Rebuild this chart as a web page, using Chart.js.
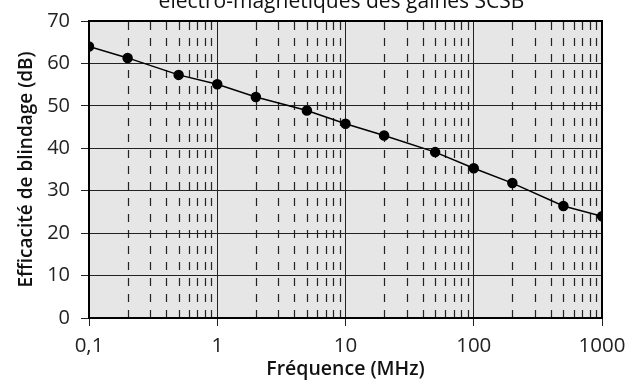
<!DOCTYPE html>
<html>
<head>
<meta charset="utf-8">
<script src="https://cdn.jsdelivr.net/npm/chart.js@4.4.1/dist/chart.umd.min.js"></script>
<style>
  html, body { margin: 0; padding: 0; background: #fff; }
  #wrap { width: 630px; height: 381px; position: relative; }
</style>
</head>
<body>
<div id="wrap"><canvas id="chart"></canvas></div>
<script>
// Shielding effectiveness vs frequency (log x axis)
const freqMHz = [0.1, 0.2, 0.5, 1, 2, 5, 10, 20, 50, 100, 200, 500, 1000];
const shieldDb = [64, 61.3, 57.3, 55.1, 52.1, 48.9, 45.8, 43.0, 39.1, 35.3, 31.8, 26.4, 24.0];
const xMajorTicks = [0.1, 1, 10, 100, 1000];
const xTickLabels = ['0,1', '1', '10', '100', '1000'];
const xMinorTicks = [0.2, 0.3, 0.4, 0.5, 0.6, 0.7, 0.8, 0.9,
  2, 3, 4, 5, 6, 7, 8, 9, 20, 30, 40, 50, 60, 70, 80, 90,
  200, 300, 400, 500, 600, 700, 800, 900];
const titleText = 'électro-magnétiques des gaines SCSB';

const FONT = '"Open Sans", "DejaVu Sans", sans-serif';

// plot background, dashed minor grid and frame
const plotDecor = {
  id: 'plotDecor',
  beforeDraw(chart) {
    const { ctx, chartArea: a } = chart;
    ctx.save();
    ctx.fillStyle = '#e6e6e6';
    ctx.fillRect(a.left, a.top, a.right - a.left, a.bottom - a.top);
    ctx.restore();
  },
  beforeDatasetsDraw(chart) {
    const { ctx, chartArea: a, scales } = chart;
    ctx.save();
    ctx.strokeStyle = '#222';
    ctx.lineWidth = 1.2;
    ctx.setLineDash([8, 8]);
    xMinorTicks.forEach(v => {
      const x = Math.round(scales.x.getPixelForValue(v)) + 0.5;
      ctx.beginPath();
      ctx.moveTo(x, a.bottom);
      ctx.lineTo(x, a.top);
      ctx.stroke();
    });
    ctx.setLineDash([]);
    ctx.strokeStyle = '#000';
    ctx.lineWidth = 2;
    ctx.strokeRect(a.left, a.top, a.right - a.left, a.bottom - a.top);
    ctx.restore();
  },
  afterDraw(chart) {
    const { ctx, chartArea: a } = chart;
    ctx.save();
    ctx.fillStyle = '#111';
    ctx.font = '500 21px ' + FONT;
    ctx.textAlign = 'center';
    ctx.textBaseline = 'alphabetic';
    ctx.fillText(titleText, (a.left + a.right) / 2 - 4, 7.5);
    ctx.restore();
  }
};

new Chart(document.getElementById('chart'), {
  type: 'line',
  data: {
    datasets: [{
      data: freqMHz.map((f, i) => ({ x: f, y: shieldDb[i] })),
      borderColor: '#000',
      backgroundColor: '#000',
      borderWidth: 1.5,
      pointRadius: 4.5,
      pointHoverRadius: 4.5,
      tension: 0
    }]
  },
  options: {
    responsive: true,
    maintainAspectRatio: false,
    animation: false,
    layout: { padding: { top: 21, right: 28, left: 0, bottom: 0 } },
    plugins: { legend: { display: false }, tooltip: { enabled: false } },
    scales: {
      x: {
        type: 'logarithmic',
        min: 0.1,
        max: 1000,
        afterBuildTicks: (s) => { s.ticks = xMajorTicks.map(v => ({ value: v })); },
        afterFit: (s) => { s.height = 63; s.paddingLeft = 0; s.paddingRight = 0; },
        ticks: {
          autoSkip: false,
          maxRotation: 0,
          color: '#222',
          padding: 8,
          font: { family: FONT, size: 20.5 },
          callback: (v) => {
            const i = xMajorTicks.indexOf(Number(v));
            return i >= 0 ? xTickLabels[i] : '';
          }
        },
        grid: { color: '#222', lineWidth: 1, tickLength: 8 },
        border: { display: false },
        title: {
          display: true,
          text: 'Fréquence (MHz)',
          color: '#111',
          font: { family: FONT, size: 19.5, weight: '600' },
          padding: { top: 0, bottom: 0 }
        }
      },
      y: {
        min: 0,
        max: 70,
        afterFit: (s) => { s.width = 89; s.paddingTop = 0; s.paddingBottom = 0; },
        ticks: {
          stepSize: 10,
          color: '#222',
          padding: 11,
          font: { family: FONT, size: 20 }
        },
        grid: { color: '#222', lineWidth: 1, tickLength: 8 },
        border: { display: false },
        title: {
          display: true,
          text: 'Efficacité de blindage (dB)',
          color: '#111',
          font: { family: FONT, size: 19, weight: '600' },
          padding: { top: 15, bottom: 0 }
        }
      }
    }
  },
  plugins: [plotDecor]
});
</script>
</body>
</html>
